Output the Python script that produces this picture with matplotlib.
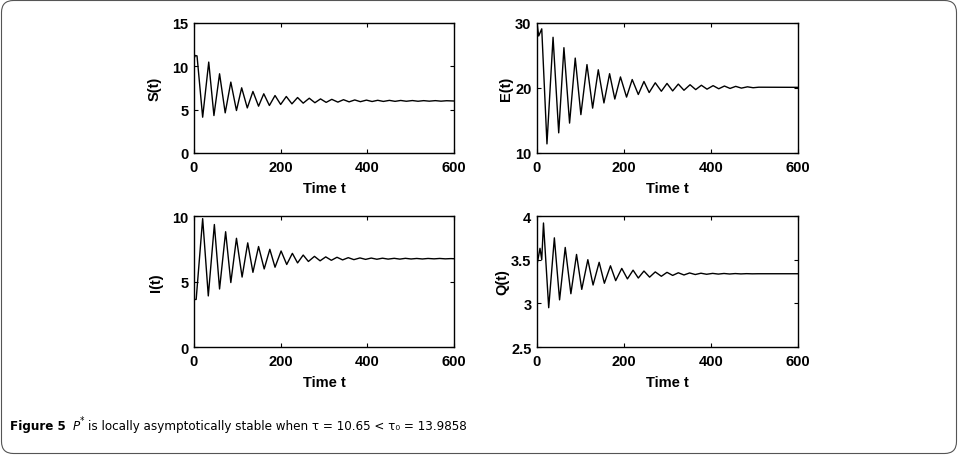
import matplotlib
matplotlib.use("Agg")
import matplotlib.pyplot as plt
from matplotlib import font_manager
from matplotlib.font_manager import FontProperties
from matplotlib.patches import FancyBboxPatch
from matplotlib.transforms import IdentityTransform

# Peaks and troughs
s_t = [0, 3, 7, 20, 34, 46, 59, 72, 85, 98, 110, 123, 136, 149, 161, 174, 187, 200,
       213, 226, 239, 252, 266, 279, 292, 305, 318, 332, 345, 358, 371, 384, 398, 411,
       424, 437, 451, 464, 477, 490, 504, 517, 530, 543, 557, 570, 583, 600]
s_val = [10.9, 11.25, 11.2, 4.13, 10.49, 4.32, 9.14, 4.63, 8.18, 4.9, 7.52, 5.2, 7.1,
         5.4, 6.83, 5.48, 6.63, 5.6, 6.52, 5.67, 6.4, 5.75, 6.32, 5.8, 6.24, 5.84, 6.19,
         5.87, 6.15, 5.9, 6.12, 5.92, 6.1, 5.94, 6.08, 5.95, 6.07, 5.96, 6.06, 5.97, 6.05,
         5.97, 6.04, 5.98, 6.04, 5.98, 6.03, 6.0]

e_t = [0, 0.5, 4, 11, 23, 37, 50, 62, 75, 88, 101, 115, 128, 141, 154, 167, 179, 192,
       206, 219, 233, 246, 258, 272, 286, 299, 312, 325, 338, 352, 365, 378, 391, 405,
       418, 431, 444, 457, 470, 484, 497, 510, 600]
e_val = [20, 29.8, 28, 29.1, 11.4, 27.8, 13.1, 26.2, 14.6, 24.6, 15.9, 23.6, 16.9, 22.8,
         17.7, 22.2, 18.3, 21.7, 18.6, 21.3, 19.0, 21.0, 19.3, 20.8, 19.5, 20.7, 19.55,
         20.6, 19.65, 20.5, 19.75, 20.42, 19.82, 20.36, 19.88, 20.3, 19.93, 20.25, 19.98,
         20.18, 20.04, 20.12, 20.1]

i_t = [0, 5, 20, 33, 47, 59, 73, 85, 98, 111, 124, 136, 149, 162, 175, 187, 201, 214,
       227, 239, 252, 264, 278, 291, 304, 317, 330, 343, 356, 369, 383, 396, 409, 422,
       435, 448, 462, 475, 488, 501, 514, 527, 540, 554, 567, 580, 593, 600]
i_val = [3.63, 3.63, 9.8, 3.9, 9.35, 4.43, 8.8, 4.92, 8.3, 5.34, 7.95, 5.7, 7.67, 5.96,
         7.46, 6.09, 7.33, 6.3, 7.15, 6.42, 7.02, 6.53, 6.92, 6.58, 6.88, 6.62, 6.85, 6.65,
         6.82, 6.67, 6.8, 6.69, 6.79, 6.7, 6.78, 6.71, 6.77, 6.71, 6.77, 6.72, 6.76, 6.72,
         6.76, 6.73, 6.76, 6.73, 6.75, 6.74]

q_t = [0, 0.4, 7, 11, 15, 27, 40, 52, 65, 78, 91, 103, 117, 129, 143, 155, 169, 181,
       195, 208, 221, 233, 246, 259, 272, 286, 299, 312, 325, 338, 351, 364, 377, 390,
       404, 417, 430, 443, 456, 469, 482, 495, 508, 600]
q_val = [2.52, 3.45, 3.63, 3.5, 3.92, 2.95, 3.75, 3.04, 3.64, 3.11, 3.56, 3.16, 3.5, 3.21,
         3.47, 3.23, 3.43, 3.26, 3.40, 3.28, 3.38, 3.29, 3.37, 3.30, 3.36, 3.31, 3.355,
         3.32, 3.35, 3.325, 3.348, 3.33, 3.345, 3.333, 3.343, 3.335, 3.342, 3.336, 3.341,
         3.337, 3.34, 3.338, 3.339, 3.339]

panels = [
    (s_t, s_val, "S(t)", (0, 15), [0, 5, 10, 15], ["0", "5", "10", "15"]),
    (e_t, e_val, "E(t)", (10, 30), [10, 20, 30], ["10", "20", "30"]),
    (i_t, i_val, "I(t)", (0, 10), [0, 5, 10], ["0", "5", "10"]),
    (q_t, q_val, "Q(t)", (2.5, 4), [2.5, 3, 3.5, 4], ["2.5", "3", "3.5", "4"]),
]

# axes rectangles in figure fraction (left, bottom, width, height)
rects = [
    (0.2025, 0.6623, 0.2714, 0.2851),
    (0.5605, 0.6623, 0.2724, 0.2851),
    (0.2025, 0.2368, 0.2714, 0.2873),
    (0.5605, 0.2368, 0.2724, 0.2873),
]
ylabel_x = [-0.123, -0.09, -0.12, -0.105]


def _find_font(filename):
    for f in font_manager.findSystemFonts():
        if f.endswith(filename):
            return f
    return None


plt.rcParams['font.family'] = ['Liberation Sans', 'DejaVu Sans']
lab_font = FontProperties(family='Liberation Sans', weight='bold', size=10.5)

# condensed face for the caption, if the system has it
cond = _find_font('DejaVuSansCondensed.ttf')
cond_b = _find_font('DejaVuSansCondensed-Bold.ttf')
cond_i = _find_font('DejaVuSansCondensed-Oblique.ttf')
cap_reg = FontProperties(fname=cond, size=9.5) if cond else FontProperties(family='Liberation Sans', size=9)
cap_bold = FontProperties(fname=cond_b, size=9.5) if cond_b else FontProperties(family='Liberation Sans', weight='bold', size=9)
cap_it = FontProperties(fname=cond_i, size=9.5) if cond_i else FontProperties(family='Liberation Sans', style='italic', size=9)

fig = plt.figure(figsize=(9.58, 4.56), dpi=100)

for (t, v, ylab, ylim, yticks, yticklabels), rect, lx in zip(panels, rects, ylabel_x):
    ax = fig.add_axes(rect)
    ax.plot(t, v, color="black", linewidth=1.0)
    ax.set_xlim(0, 600)
    ax.set_ylim(*ylim)
    ax.set_xticks([0, 200, 400, 600])
    ax.set_yticks(yticks)
    ax.set_yticklabels(yticklabels)
    ax.tick_params(direction="in", length=3, width=0.8, top=True, right=True)
    ax.tick_params(axis="x", pad=5)
    ax.tick_params(axis="y", pad=4)
    for lab in ax.get_xticklabels() + ax.get_yticklabels():
        lab.set_fontproperties(lab_font)
    for sp in ax.spines.values():
        sp.set_linewidth(1.0)
    ax.set_xlabel("Time t", fontproperties=lab_font, labelpad=5)
    ax.set_ylabel(ylab, fontproperties=lab_font)
    ax.yaxis.set_label_coords(lx, 0.5)

# rounded frame around the figure
frame = FancyBboxPatch((1.5, 1.5), 955, 453, boxstyle="round,pad=0,rounding_size=12",
                       transform=IdentityTransform(), facecolor="none",
                       edgecolor="#555555", linewidth=0.8)
fig.add_artist(frame)

# caption
fig.text(10 / 958, 0.064, "Figure 5", fontproperties=cap_bold, va="center")
fig.text(73 / 958, 0.064, "P", fontproperties=cap_it, va="center")
fig.text(80 / 958, 0.077, "*", fontproperties=cap_reg, fontsize=7, va="center")
fig.text(88 / 958, 0.064,
         "is locally asymptotically stable when \u03c4 = 10.65 < \u03c4\u2080 = 13.9858",
         fontproperties=cap_reg, va="center")

fig.savefig("out.png", dpi=100)
